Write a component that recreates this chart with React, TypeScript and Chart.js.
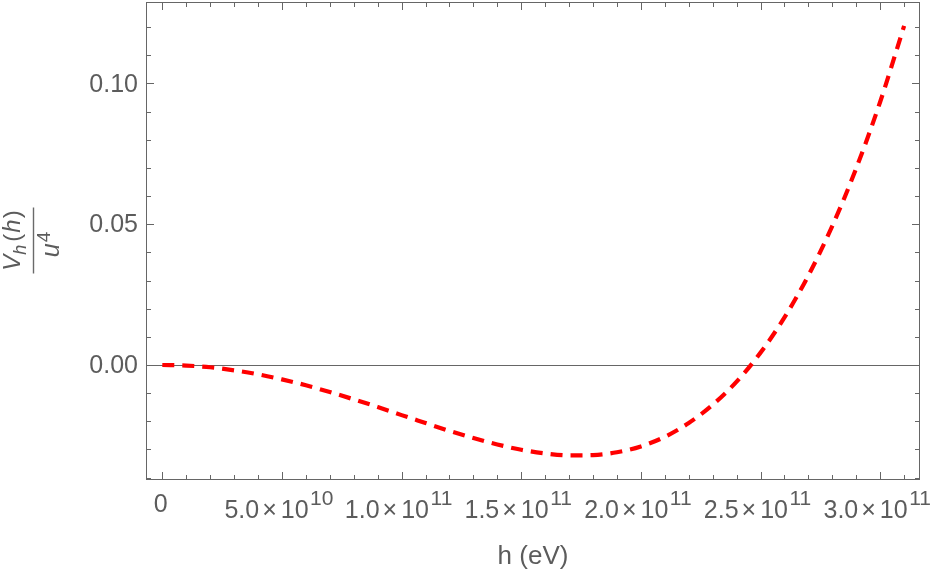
import React, { useEffect, useRef } from 'react';
import { Chart, registerables } from 'chart.js';

Chart.register(...registerables);

// ---- data ----
const hValues = [
  0, 1e10, 2e10, 3e10, 4e10, 5e10, 6e10, 7e10, 8e10, 9e10,
  1.0e11, 1.1e11, 1.2e11, 1.3e11, 1.4e11, 1.5e11, 1.6e11, 1.7e11, 1.8e11, 1.9e11,
  2.0e11, 2.1e11, 2.2e11, 2.3e11, 2.4e11, 2.5e11, 2.6e11, 2.7e11, 2.8e11, 2.9e11,
  3.0e11, 3.1e11,
];
const vValues = [
  0, -0.0002, -0.0008, -0.0019, -0.0033, -0.0051, -0.0072, -0.0096, -0.0122, -0.0149,
  -0.0178, -0.0206, -0.0234, -0.0259, -0.0282, -0.0301, -0.0314, -0.0321, -0.032, -0.031,
  -0.0289, -0.0255, -0.0206, -0.0141, -0.0059, 0.0044, 0.0169, 0.0318, 0.0494, 0.0699,
  0.0935, 0.1204,
];

const xMajorTicks = [0, 5e10, 1e11, 1.5e11, 2e11, 2.5e11, 3e11];
const xTickMantissa = ['0', '5.0', '1.0', '1.5', '2.0', '2.5', '3.0'];
const xTickExponent = ['', '10', '11', '11', '11', '11', '11'];
const yMajorTicks = [0, 0.05, 0.1];
const yTickLabels = ['0.00', '0.05', '0.10'];
const xTitle = 'h (eV)';

const X_MIN = -6.6e9;
const X_MAX = 3.1642e11;
const Y_MIN = -0.04066;
const Y_MAX = 0.12873;

const FONT = '"Liberation Sans", Arial, sans-serif';
const TEXT = '#5c5c5c';
const FRAME = '#666666';

const framePlugin = {
  id: 'mmaFrame',
  beforeDatasetsDraw(chart: any) {
    const { ctx, chartArea, scales } = chart;
    const y0 = Math.round(scales.y.getPixelForValue(0)) + 0.5;
    ctx.save();
    ctx.strokeStyle = FRAME;
    ctx.lineWidth = 1;
    ctx.beginPath();
    ctx.moveTo(chartArea.left, y0);
    ctx.lineTo(chartArea.right, y0);
    ctx.stroke();
    ctx.restore();
  },
  afterDraw(chart: any) {
    const { ctx, chartArea, scales } = chart;
    const xs = scales.x;
    const ys = scales.y;
    const { left, right, top, bottom } = chartArea;
    ctx.save();
    ctx.strokeStyle = FRAME;
    ctx.lineWidth = 1;
    ctx.strokeRect(left, top, right - left, bottom - top);

    const MAJ = 7.5;
    const MIN = 4.5;
    ctx.beginPath();
    for (let i = 0; i <= 31; i++) {
      const v = i * 1e10;
      const px = Math.round(xs.getPixelForValue(v)) + 0.5;
      if (px <= left || px >= right) continue;
      const len = i % 5 === 0 ? MAJ : MIN;
      ctx.moveTo(px, bottom);
      ctx.lineTo(px, bottom - len);
      ctx.moveTo(px, top);
      ctx.lineTo(px, top + len);
    }
    for (let i = -4; i <= 12; i++) {
      const v = i * 0.01;
      const py = Math.round(ys.getPixelForValue(v)) + 0.5;
      if (py <= top || py >= bottom) continue;
      const len = i % 5 === 0 ? MAJ : MIN;
      ctx.moveTo(left, py);
      ctx.lineTo(left + len, py);
      ctx.moveTo(right, py);
      ctx.lineTo(right - len, py);
    }
    ctx.stroke();

    // y tick labels
    ctx.fillStyle = TEXT;
    ctx.font = `25px ${FONT}`;
    ctx.textAlign = 'right';
    ctx.textBaseline = 'alphabetic';
    yMajorTicks.forEach((v, i) => {
      const py = ys.getPixelForValue(v);
      ctx.fillText(yTickLabels[i], 138, py + 8.2);
    });

    // x tick labels with superscript exponents
    ctx.textAlign = 'left';
    xMajorTicks.forEach((v, i) => {
      const px = xs.getPixelForValue(v);
      const mant = xTickMantissa[i];
      const exp = xTickExponent[i];
      if (!exp) {
        ctx.font = `25px ${FONT}`;
        const w = ctx.measureText(mant).width;
        ctx.fillText(mant, px - 1.5 - w / 2, 511.5);
        return;
      }
      ctx.font = `25px ${FONT}`;
      const wM = ctx.measureText(mant).width;
      const wX = ctx.measureText('\u00d7').width;
      const wT = ctx.measureText('10').width;
      ctx.font = `21px ${FONT}`;
      const wE = ctx.measureText(exp).width;
      const g1 = 3;
      const g2 = 4;
      const g3 = 1.5;
      const total = wM + g1 + wX + g2 + wT + g3 + wE;
      let cx = px - 3 - total / 2;
      ctx.font = `25px ${FONT}`;
      ctx.fillText(mant, cx, 517.5);
      cx += wM + g1;
      ctx.fillText('\u00d7', cx, 517.5);
      cx += wX + g2;
      ctx.fillText('10', cx, 517.5);
      cx += wT + g3;
      ctx.font = `21px ${FONT}`;
      ctx.fillText(exp, cx, 504.5);
    });

    // x axis title
    ctx.font = `26px ${FONT}`;
    ctx.textAlign = 'center';
    ctx.fillText(xTitle, (left + right) / 2, 563.5);

    // y axis title: fraction V_h(h) / u^4, rotated
    ctx.translate(33.5, 240.5);
    ctx.rotate(-Math.PI / 2);
    ctx.textAlign = 'left';
    ctx.strokeStyle = '#6a6a6a';
    ctx.lineWidth = 1.4;
    ctx.beginPath();
    ctx.moveTo(-33, 0);
    ctx.lineTo(33, 0);
    ctx.stroke();

    type Seg = { t: string; font: string; dy: number; gap: number };
    const drawRun = (segs: Seg[], base: number, shift: number) => {
      let w = 0;
      segs.forEach((s) => {
        ctx.font = s.font;
        w += ctx.measureText(s.t).width + s.gap;
      });
      let x = -w / 2 + shift;
      segs.forEach((s) => {
        ctx.font = s.font;
        ctx.fillText(s.t, x, base + s.dy);
        x += ctx.measureText(s.t).width + s.gap;
      });
    };
    const it = (sz: number) => `italic ${sz}px ${FONT}`;
    const up = (sz: number) => `${sz}px ${FONT}`;
    drawRun(
      [
        { t: 'V', font: it(24), dy: 0, gap: 0 },
        { t: 'h', font: it(18), dy: 6, gap: 3 },
        { t: '(', font: up(24), dy: 0, gap: 1 },
        { t: 'h', font: it(24), dy: 0, gap: 1 },
        { t: ')', font: up(24), dy: 0, gap: 0 },
      ],
      -13.5,
      0
    );
    drawRun(
      [
        { t: 'u', font: it(25), dy: 0, gap: 1 },
        { t: '4', font: up(19), dy: -9, gap: 0 },
      ],
      25,
      -4
    );
    ctx.restore();
  },
};

export default function App() {
  const canvasRef = useRef<HTMLCanvasElement | null>(null);

  useEffect(() => {
    const canvas = canvasRef.current;
    if (!canvas) return;
    const chart = new Chart(canvas, {
      type: 'line',
      data: {
        datasets: [
          {
            data: hValues.map((h, i) => ({ x: h, y: vValues[i] })),
            borderColor: '#ff0000',
            borderWidth: 4.2,
            borderDash: [12, 8],
            borderCapStyle: 'butt',
            pointRadius: 0,
            fill: false,
            cubicInterpolationMode: 'monotone',
          },
        ],
      },
      options: {
        animation: false,
        responsive: false,
        maintainAspectRatio: false,
        layout: { padding: { top: 2.5, right: 17.5, left: 0, bottom: 0 } },
        plugins: { legend: { display: false }, tooltip: { enabled: false } },
        scales: {
          x: {
            type: 'linear',
            min: X_MIN,
            max: X_MAX,
            grid: { display: false },
            border: { display: false },
            ticks: { display: false },
            afterFit: (s: any) => {
              s.height = 90.5;
            },
          },
          y: {
            type: 'linear',
            min: Y_MIN,
            max: Y_MAX,
            grid: { display: false },
            border: { display: false },
            ticks: { display: false },
            afterFit: (s: any) => {
              s.width = 146.5;
            },
          },
        },
      } as any,
      plugins: [framePlugin],
    });
    return () => chart.destroy();
  }, []);

  return (
    <div style={{ position: 'absolute', left: 0, top: 0, width: 937, height: 570, background: '#fff' }}>
      <canvas ref={canvasRef} width={937} height={570} style={{ display: 'block' }} />
    </div>
  );
}
